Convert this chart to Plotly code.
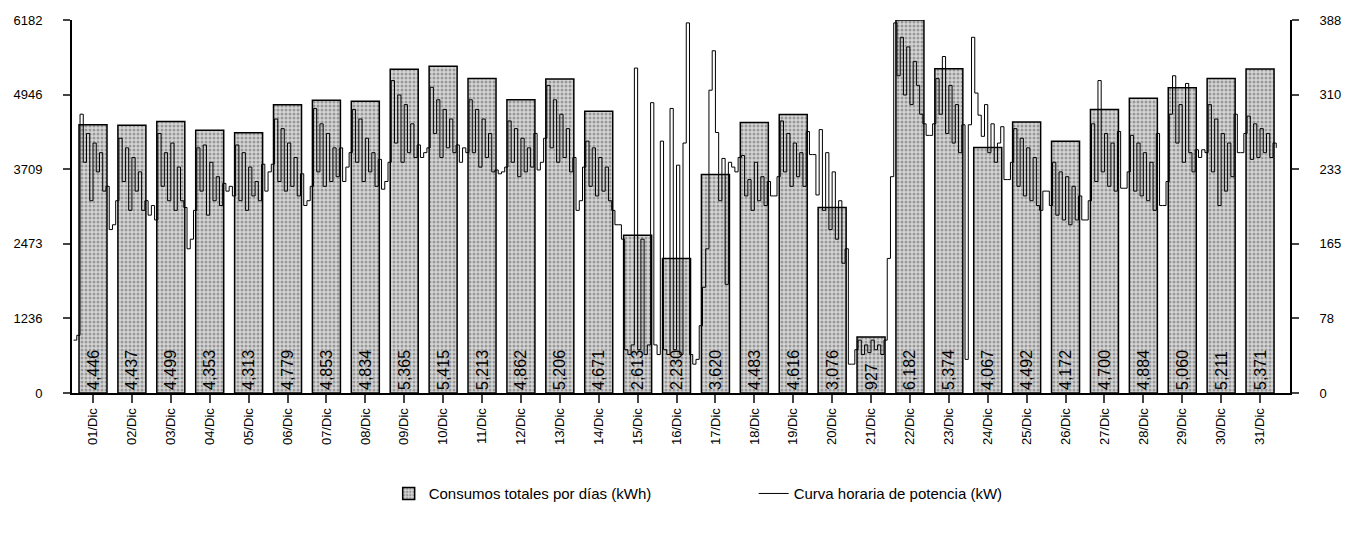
import plotly.graph_objects as go

dias = [f"{d:02d}/Dic" for d in range(1, 32)]

consumo_kwh = [
    4446, 4437, 4499, 4353, 4313, 4779, 4853, 4834, 5365, 5415,
    5213, 4862, 5206, 4671, 2613, 2230, 3620, 4483, 4616, 3076,
    927, 6182, 5374, 4067, 4492, 4172, 4700, 4884, 5060, 5211, 5371
]

# curva de potencia, un valor cada 2 horas (00h, 02h, ... 22h) por dia
potencia_kw = [
    [55, 60, 290, 240, 270, 200, 260, 230, 250, 210, 215, 170],
    [175, 200, 265, 220, 255, 190, 245, 210, 230, 190, 200, 185],
    [195, 180, 270, 215, 250, 200, 260, 190, 235, 200, 193, 150],
    [160, 190, 255, 210, 258, 185, 240, 200, 225, 195, 218, 210],
    [215, 205, 258, 200, 250, 190, 235, 205, 220, 200, 238, 210],
    [230, 238, 285, 220, 275, 210, 260, 215, 245, 205, 228, 195],
    [200, 215, 296, 230, 280, 215, 270, 220, 255, 225, 255, 220],
    [235, 250, 295, 240, 285, 220, 265, 230, 250, 215, 243, 212],
    [220, 240, 325, 260, 310, 240, 300, 250, 280, 245, 258, 245],
    [250, 255, 318, 270, 305, 245, 295, 255, 285, 250, 258, 240],
    [255, 250, 305, 250, 295, 235, 285, 245, 270, 230, 232, 228],
    [230, 235, 283, 240, 275, 225, 265, 230, 255, 235, 270, 232],
    [240, 265, 320, 255, 305, 240, 290, 245, 275, 230, 245, 190],
    [200, 235, 262, 215, 255, 205, 245, 210, 235, 200, 190, 175],
    [175, 160, 45, 40, 50, 338, 45, 160, 40, 50, 302, 50],
    [40, 262, 45, 40, 296, 45, 237, 40, 260, 385, 40, 30],
    [35, 70, 110, 150, 315, 356, 271, 200, 244, 113, 240, 235],
    [230, 245, 247, 205, 222, 190, 240, 200, 225, 195, 220, 205],
    [205, 225, 283, 230, 270, 215, 260, 225, 250, 215, 272, 248],
    [248, 206, 274, 190, 250, 170, 230, 160, 200, 135, 150, 30],
    [30, 45, 55, 40, 50, 42, 55, 45, 50, 40, 55, 140],
    [225, 385, 330, 370, 310, 360, 300, 345, 320, 290, 280, 268],
    [268, 280, 327, 290, 350, 270, 320, 260, 300, 250, 279, 35],
    [279, 370, 312, 289, 267, 300, 250, 280, 240, 260, 277, 222],
    [222, 240, 275, 215, 265, 205, 255, 200, 245, 195, 190, 210],
    [210, 195, 240, 185, 230, 180, 225, 175, 215, 180, 205, 180],
    [180, 200, 280, 220, 325, 230, 270, 215, 260, 210, 272, 213],
    [213, 230, 268, 210, 260, 205, 250, 200, 240, 190, 270, 195],
    [195, 220, 290, 330, 260, 300, 240, 322, 250, 230, 253, 245],
    [253, 250, 300, 230, 285, 195, 270, 210, 260, 225, 290, 250],
    [250, 270, 288, 243, 280, 245, 275, 250, 270, 245, 260, 255],
]

ticks_izq = ["0", "1236", "2473", "3709", "4946", "6182"]
ticks_der = ["0", "78", "165", "233", "310", "388"]

x_dias = list(range(len(dias)))
x_horas = []
y_horas = []
for i, valores in enumerate(potencia_kw):
    for j, v in enumerate(valores):
        x_horas.append(i - 0.5 + j * 2 / 24)
        y_horas.append(v)

fuente = "Liberation Sans, Arial, sans-serif"

fig = go.Figure()

fig.add_bar(
    name="Consumos totales por días (kWh)",
    x=x_dias,
    y=consumo_kwh,
    width=0.72,
    marker=dict(
        color="#d6d6d6",
        line=dict(color="black", width=1.5),
        pattern=dict(shape=".", fgcolor="#5a5a5a", size=4, solidity=0.45)
    ),
    text=[f"{v:,}" for v in consumo_kwh],
    textposition="inside",
    insidetextanchor="start",
    textangle=-90,
    textfont=dict(size=16, color="black", family=fuente),
    cliponaxis=False
)

fig.add_trace(
    go.Scatter(
        name="Curva horaria de potencia (kW)",
        x=x_horas,
        y=y_horas,
        mode="lines",
        line=dict(color="black", width=1, shape="hv"),
        yaxis="y2"
    )
)

fig.update_layout(
    width=1359,
    height=533,
    paper_bgcolor="white",
    plot_bgcolor="white",
    margin=dict(l=64, r=77, t=12, b=148, autoexpand=False),
    font=dict(family=fuente, color="black", size=13),
    xaxis=dict(
        range=[-0.54, 30.77],
        tickvals=x_dias,
        ticktext=dias,
        tickangle=-90,
        ticks="outside",
        ticklen=8,
        tickwidth=1.5,
        showline=True,
        linecolor="black",
        linewidth=2,
        showgrid=False,
        zeroline=False,
        automargin=False,
        tickfont=dict(size=13)
    ),
    yaxis=dict(
        range=[0, 6182],
        tickvals=[6182 * k / 5 for k in range(6)],
        ticktext=ticks_izq,
        ticks="outside",
        ticklen=7,
        tickwidth=1.5,
        showline=True,
        linecolor="black",
        linewidth=2,
        showgrid=False,
        zeroline=False,
        automargin=False,
        ticklabelstandoff=18,
        tickfont=dict(size=13)
    ),
    yaxis2=dict(
        range=[0, 388],
        overlaying="y",
        side="right",
        tickvals=[388 * k / 5 for k in range(6)],
        ticktext=ticks_der,
        ticks="outside",
        ticklen=7,
        tickwidth=1.5,
        showline=True,
        linecolor="black",
        linewidth=2,
        showgrid=False,
        zeroline=False,
        automargin=False,
        ticklabelstandoff=18,
        tickfont=dict(size=13)
    ),
    legend=dict(
        orientation="h",
        x=0.26,
        xanchor="left",
        y=-0.27,
        yanchor="middle",
        font=dict(size=15),
        entrywidth=320,
        traceorder="normal"
    )
)

fig.write_html("out.html")
